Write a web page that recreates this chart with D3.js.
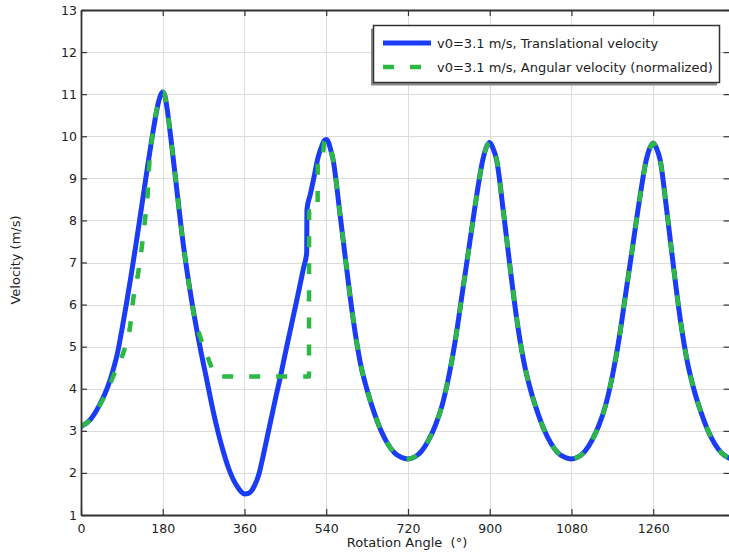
<!DOCTYPE html>
<html>
<head>
<meta charset="utf-8">
<script src="https://cdn.jsdelivr.net/npm/d3@7"></script>
<style>
  html, body { margin: 0; padding: 0; background: #fff; }
  svg { display: block; font-family: "DejaVu Sans", sans-serif; }
</style>
</head>
<body>
<svg id="chart" width="729" height="552"></svg>
<script>
// ---------- data ----------
const xTicks = [0, 180, 360, 540, 720, 900, 1080, 1260];
const yTicks = [1, 2, 3, 4, 5, 6, 7, 8, 9, 10, 11, 12, 13];
const seriesNames = ["v0=3.1 m/s, Translational velocity", "v0=3.1 m/s, Angular velocity (normalized)"];

// Translational velocity (m/s) vs rotation angle (deg)
const transAngle = [0, 20, 40, 60, 70, 80, 90, 100, 110, 120, 130, 140, 150, 160, 170, 175, 180,
  185, 189, 200, 211, 222, 233, 247, 262, 277, 290, 302, 313, 324, 335, 345, 352, 360,
  368, 376, 384, 392, 400, 410, 420, 430, 440, 450, 460, 470, 480, 490, 497, 497.5, 505, 512, 522, 530, 536, 540,
  545, 548, 555, 570, 585, 600, 615, 630, 645, 660, 675, 690, 705, 720,
  735, 750, 765, 780, 795, 810, 825, 840, 855, 870, 885, 893, 900,
  907, 915, 930, 945, 960, 975, 990, 1005, 1020, 1035, 1050, 1065, 1080,
  1095, 1110, 1125, 1140, 1155, 1170, 1185, 1200, 1215, 1230, 1245, 1253, 1260,
  1267, 1275, 1290, 1305, 1320, 1335, 1350, 1365, 1380, 1395, 1410, 1428];
const transVel = [3.10, 3.26, 3.60, 4.08, 4.42, 4.83, 5.40, 6.02, 6.67, 7.36, 8.07, 8.80, 9.52, 10.20, 10.78, 10.97, 11.05,
  10.95, 10.70, 9.76, 8.73, 7.70, 6.83, 5.88, 5.00, 4.21, 3.52, 2.96, 2.52, 2.14, 1.85, 1.66, 1.56, 1.50,
  1.51, 1.58, 1.74, 1.98, 2.35, 2.85, 3.35, 3.85, 4.33, 4.85, 5.35, 5.85, 6.35, 6.87, 7.23, 8.26, 8.62, 8.97, 9.50, 9.76, 9.90, 9.92,
  9.85, 9.75, 9.45, 8.18, 6.85, 5.60, 4.62, 3.97, 3.45, 3.02, 2.70, 2.48, 2.37, 2.33,
  2.38, 2.52, 2.77, 3.12, 3.60, 4.30, 5.20, 6.30, 7.40, 8.50, 9.45, 9.75, 9.85,
  9.72, 9.45, 8.22, 6.87, 5.62, 4.65, 3.97, 3.45, 3.02, 2.70, 2.48, 2.37, 2.33,
  2.38, 2.52, 2.77, 3.12, 3.60, 4.30, 5.20, 6.30, 7.40, 8.50, 9.45, 9.73, 9.84,
  9.72, 9.45, 8.22, 6.87, 5.62, 4.65, 3.97, 3.45, 3.02, 2.70, 2.48, 2.35];

// Angular velocity (normalized), where it differs from the translational curve (0..540 deg)
const angAngle = [0, 20, 40, 60, 75, 93, 100, 108, 115, 126, 134, 141, 147, 150, 156, 165, 170, 175, 180,
  185, 189, 200, 211, 222, 233, 247, 257, 266, 280, 290, 300,
  502, 502.3, 521, 521.3, 531, 536];
const angVel = [3.10, 3.26, 3.58, 4.02, 4.40, 4.85, 5.10, 5.47, 6.12, 6.76, 7.38, 8.02, 8.66, 9.28, 9.92, 10.55, 10.78, 10.97, 11.05,
  10.95, 10.70, 9.76, 8.73, 7.70, 6.83, 5.85, 5.42, 5.12, 4.72, 4.45, 4.29,
  4.29, 8.22, 8.22, 9.42, 9.42, 9.88];

// ---------- layout ----------
const svg = d3.select("#chart");
const L = 81, R = 729.5, T = 10, B = 515;
const x = d3.scaleLinear().domain([0, 1428]).range([L, R]);
const y = d3.scaleLinear().domain([1, 13]).range([B, T]);

const trans = transAngle.map((a, i) => [a, transVel[i]]);
const ang = angAngle.map((a, i) => [a, angVel[i]])
  .concat(trans.filter(d => d[0] >= 540));

// clip
svg.append("defs").append("clipPath").attr("id", "clip")
  .append("rect").attr("x", L).attr("y", T).attr("width", R - L).attr("height", B - T);

// grid
const grid = svg.append("g").attr("stroke", "#dcdcdc").attr("stroke-width", 1);
grid.selectAll("line.gx").data(xTicks).join("line")
  .attr("x1", d => Math.round(x(d)) + 0.5).attr("x2", d => Math.round(x(d)) + 0.5)
  .attr("y1", T).attr("y2", B);
grid.selectAll("line.gy").data(yTicks).join("line")
  .attr("y1", d => Math.round(y(d)) + 0.5).attr("y2", d => Math.round(y(d)) + 0.5)
  .attr("x1", L).attr("x2", R);

// lines
const line = d3.line().x(d => x(d[0])).y(d => y(d[1])).curve(d3.curveMonotoneX);
const plot = svg.append("g").attr("clip-path", "url(#clip)");
plot.append("path").datum(trans).attr("d", line)
  .attr("fill", "none").attr("stroke", "#1a3cf5").attr("stroke-width", 5)
  .attr("stroke-linejoin", "round").attr("stroke-linecap", "round");
plot.append("path").datum(ang).attr("d", line)
  .attr("fill", "none").attr("stroke", "#2bb843").attr("stroke-width", 4.5)
  .attr("stroke-dasharray", "11,16").attr("stroke-linejoin", "round");

// axes (ticks inward, box)
const axisColor = "#333";
const gx = svg.append("g").attr("transform", `translate(0,${B})`)
  .call(d3.axisBottom(x).tickValues(xTicks).tickSizeInner(-6).tickSizeOuter(0).tickPadding(9).tickFormat(d3.format("d")));
const gy = svg.append("g").attr("transform", `translate(${L},0)`)
  .call(d3.axisLeft(y).tickValues(yTicks).tickSizeInner(-6).tickSizeOuter(0).tickPadding(4).tickFormat(d3.format("d")));
const gt = svg.append("g").attr("transform", `translate(0,${T})`)
  .call(d3.axisTop(x).tickValues(xTicks).tickSizeInner(-6).tickSizeOuter(0).tickFormat(""));
const gr = svg.append("g").attr("transform", `translate(${R},0)`)
  .call(d3.axisRight(y).tickValues(yTicks).tickSizeInner(-6).tickSizeOuter(0).tickFormat(""));
[gx, gy, gt, gr].forEach(g => {
  g.select(".domain").attr("stroke", axisColor).attr("stroke-width", 1.8);
  g.selectAll(".tick line").attr("stroke", axisColor).attr("stroke-width", 1.2);
  g.selectAll("text").attr("fill", "#222").attr("font-size", 12.5).attr("font-family", "DejaVu Sans");
});

// axis titles
svg.append("text").attr("x", 407).attr("y", 547).attr("text-anchor", "middle")
  .attr("font-size", 13).attr("fill", "#222").style("white-space", "pre")
  .text("Rotation Angle  (°)");
svg.append("text").attr("transform", "translate(20,260) rotate(-90)").attr("text-anchor", "middle")
  .attr("font-size", 13).attr("fill", "#222")
  .text("Velocity (m/s)");

// legend
const lg = svg.append("g");
lg.append("rect").attr("x", 371).attr("y", 28.5).attr("width", 346).attr("height", 57).attr("fill", "#8a8a8a");
lg.append("rect").attr("x", 373.5).attr("y", 25.5).attr("width", 346).attr("height", 57)
  .attr("fill", "#fff").attr("stroke", "#333").attr("stroke-width", 1.5);
lg.append("line").attr("x1", 383).attr("x2", 431).attr("y1", 43).attr("y2", 43)
  .attr("stroke", "#1a3cf5").attr("stroke-width", 5);
lg.append("line").attr("x1", 383).attr("x2", 431).attr("y1", 67).attr("y2", 67)
  .attr("stroke", "#2bb843").attr("stroke-width", 4.5).attr("stroke-dasharray", "11,16");
lg.selectAll("text.l").data(seriesNames).join("text")
  .attr("x", 437).attr("y", (d, i) => 47.5 + i * 24)
  .attr("font-size", 13).attr("fill", "#222").text(d => d);
</script>
</body>
</html>
